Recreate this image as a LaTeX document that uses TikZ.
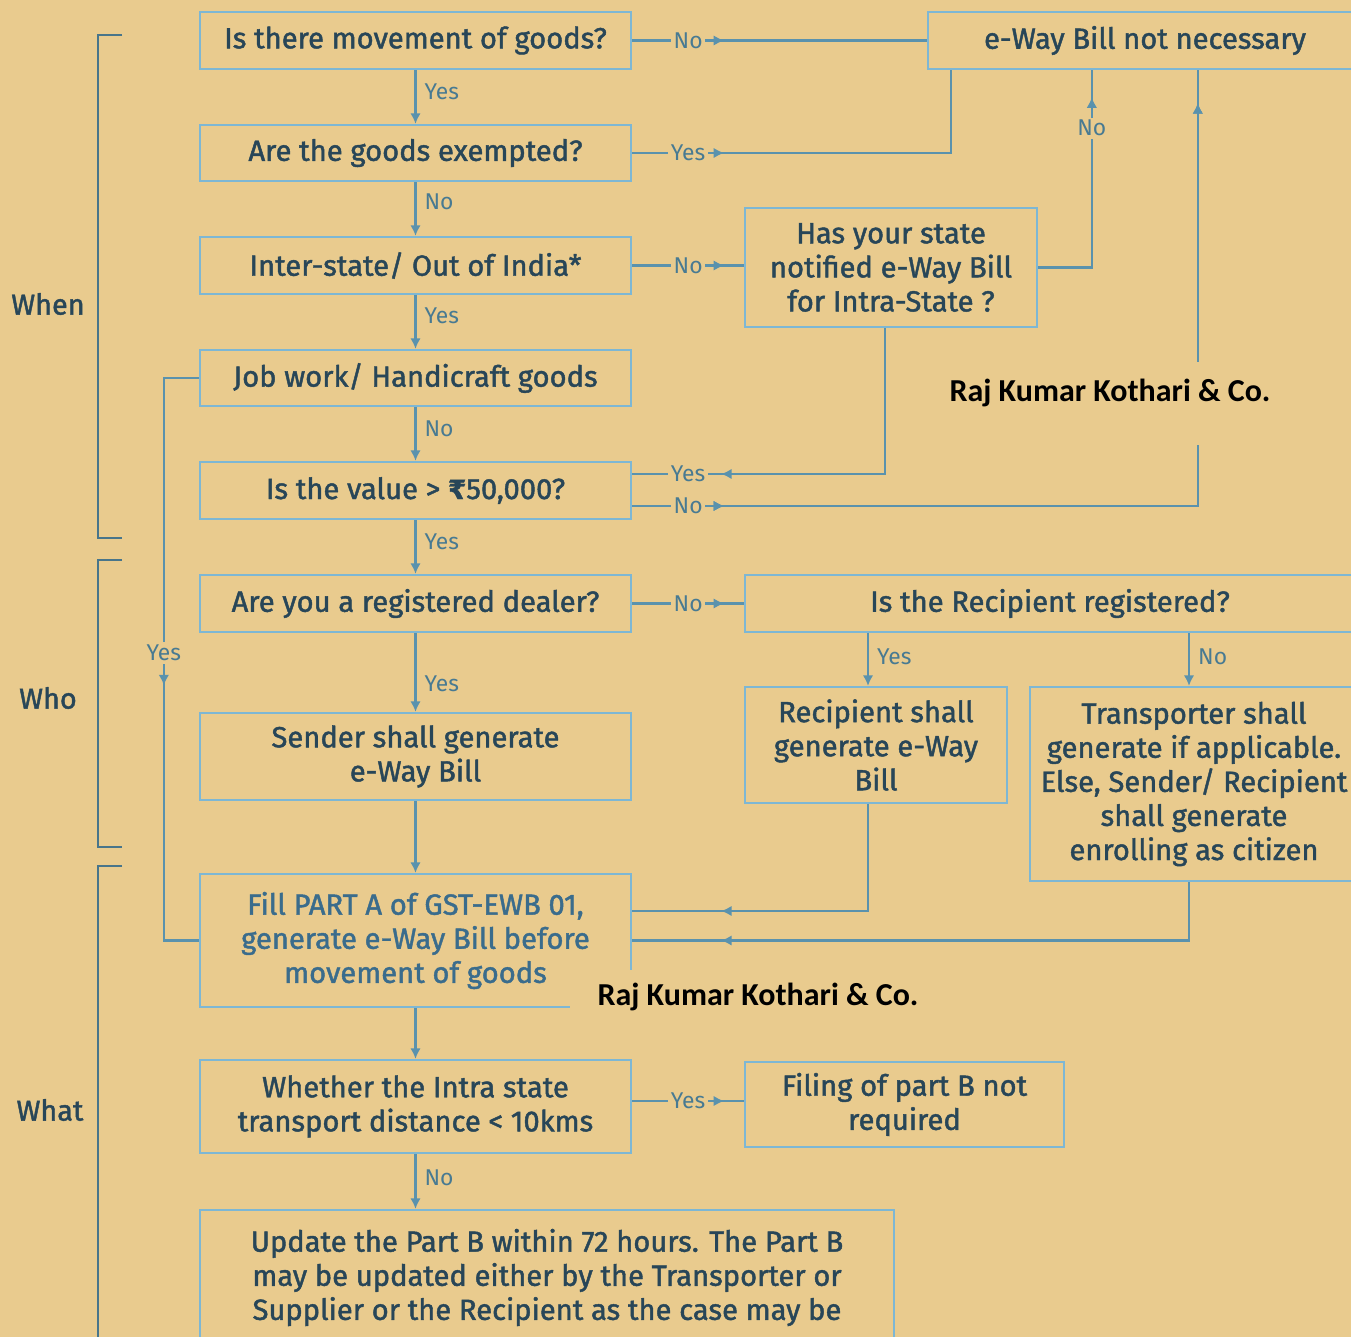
\documentclass[tikz,border=0pt]{standalone}
\usepackage{fontspec}
\setmainfont{Fira Sans}[BoldFont={Fira Sans},BoldFeatures={FakeBold=1.5}]
\newfontfamily\wmfont{Carlito}
\newfontfamily\rupeefont{DejaVu Sans}[FakeBold=1.5]
\usetikzlibrary{arrows.meta,decorations.markings}
\definecolor{paper}{HTML}{E9CB8E}
\definecolor{rimblue}{HTML}{7DB7D4}
\definecolor{wireblue}{HTML}{5A92AD}
\definecolor{inkslate}{HTML}{284658}
\definecolor{fillblue}{HTML}{3A6C8C}
\definecolor{tagblue}{HTML}{487A92}
\newcommand{\FlowTip}{Latex[length=6,width=6]}
\tikzset{box/.style={draw=rimblue,line width=1.3pt,text=inkslate,align=center,inner sep=0,font=\bfseries\fontsize{16.6}{19.4}\selectfont},
sz/.style 2 args={minimum width=#1*0.02cm,minimum height=#2*0.02cm},
tag/.style={text=tagblue,font=\fontsize{13}{15}\selectfont,inner sep=1.5pt},
wire/.style={color=wireblue,line width=1.4pt},
side/.style={text=inkslate,font=\bfseries\fontsize{16.4}{19}\selectfont},
brace/.style={color=wireblue!80!black,line width=1.4pt},
wmark/.style={text=black,font=\wmfont\bfseries\fontsize{18.2}{21}\selectfont},
fwd/.style={decoration={markings,mark=at position 1.12cm with {\node[tag,fill=paper]{#1};},mark=at position 1.84cm with {\arrow{\FlowTip}}},postaction={decorate}},
bwd/.style={decoration={markings,mark=at position -1.12cm with {\node[tag,fill=paper]{#1};},mark=at position -1.78cm with {\arrow{\FlowTip}}},postaction={decorate}},
midtip/.style={decoration={markings,mark=at position #1 with {\arrow{\FlowTip}}},postaction={decorate}}}
\begin{document}
\begin{tikzpicture}[x=0.02cm,y=-0.02cm]
\useasboundingbox(0,0)rectangle(1351,1337);\clip(0,0)rectangle(1351,1337);\fill[paper](0,0)rectangle(1351,1337);
\node[box,sz={431}{57}](mov)at(415.5,40.5){Is there movement of goods?};
\node[box,sz={431}{56}](exm)at(415.5,153){Are the goods exempted?};
\node[box,sz={431}{57}](ist)at(415.5,265.5){Inter-state/ Out of India*};
\node[box,sz={431}{56}](job)at(415.5,378){Job work/ Handicraft goods};
\node[box,sz={431}{57}](val)at(415.5,490.5){Is the value > {\rupeefont\fontsize{15}{16}\selectfont ₹}50,000?};
\node[box,sz={431}{57}](reg)at(415.5,603.5){Are you a registered dealer?};
\node[box,sz={431}{87}](snd)at(415.5,756.5){Sender shall generate\\e-Way Bill};
\node[box,sz={431}{133},text=fillblue](prta)at(415.5,940.5){Fill PART A of GST-EWB 01,\\generate e-Way Bill before\\movement of goods};
\node[box,sz={431}{93}](dist)at(415.5,1106.5){Whether the Intra state\\transport distance < 10kms};
\node[box,sz={694}{135}](prtb)at(547,1277.5){Update the Part B within 72 hours. The Part B\\may be updated either by the Transporter or\\Supplier or the Recipient as the case may be};
\node[box,sz={434}{57}](none)at(1145,40.5){e-Way Bill not necessary};
\node[box,sz={292}{119}](ntf)at(891,267.5){Has your state\\notified e-Way Bill\\for Intra-State ?};
\node[box,sz={610}{57}](rcp)at(1050,603.5){Is the Recipient registered?};
\node[box,sz={262}{116}](rgen)at(876,745){Recipient shall\\generate e-Way\\Bill};
\node[box,sz={328}{194}](tgen)at(1194,784){Transporter shall\\generate if applicable.\\Else, Sender/ Recipient\\shall generate\\enrolling as citizen};
\node[box,sz={319}{85}](nob)at(904.5,1104.5){Filing of part B not\\required};
\draw[wire,-{\FlowTip}](mov)--(exm)node[tag,right=3pt,pos=.41]{Yes};
\draw[wire,-{\FlowTip}](exm)--(ist)node[tag,right=3pt,pos=.36]{No};
\draw[wire,-{\FlowTip}](ist)--(job)node[tag,right=3pt,pos=.39]{Yes};
\draw[wire,-{\FlowTip}](job)--(val)node[tag,right=3pt,pos=.41]{No};
\draw[wire,-{\FlowTip}](val)--(reg)node[tag,right=3pt,pos=.41]{Yes};
\draw[wire,-{\FlowTip}](reg)--(snd)node[tag,right=3pt,pos=.64]{Yes};
\draw[wire,-{\FlowTip}](snd)--(prta);
\draw[wire,-{\FlowTip}](prta)--(dist);
\draw[wire,-{\FlowTip}](dist.south)--(dist.south|-prtb.north)node[tag,right=3pt,pos=.44]{No};
\draw[wire,fwd=No](mov)--(none);
\draw[wire,fwd=Yes](exm.east)-|([xshift=0.48cm]none.south west);
\draw[wire,fwd=No](ist.east)--(ist.east-|ntf.west);
\draw[wire,decoration={markings,mark=at position 3.86cm with {\node[tag,fill=paper]{No};},mark=at position 4.48cm with {\arrow{\FlowTip}}},postaction={decorate}](ntf.east)-|([xshift=3.3cm]none.south west);
\draw[wire,bwd=Yes]([xshift=-0.12cm]ntf.south)|-([yshift=0.33cm]val.east);
\draw[wire,fwd=No,midtip=-0.66cm]([yshift=-0.31cm]val.east)-|([xshift=5.42cm]none.south west);
\draw[wire,fwd=No](reg)--(rcp);
\draw[wire,-{\FlowTip}]([xshift=-0.16cm]rcp.south-|rgen.north)--([xshift=-0.16cm]rgen.north)node[tag,right=3pt,pos=.45]{Yes};
\draw[wire,-{\FlowTip}]([xshift=-0.1cm]rcp.south-|tgen.north)--([xshift=-0.1cm]tgen.north)node[tag,right=3pt,pos=.44]{No};
\draw[wire,midtip=-1.78cm]([xshift=-0.16cm]rgen.south)|-([yshift=0.59cm]prta.east);
\draw[wire,midtip=-1.78cm]([xshift=-0.1cm]tgen.south)|-(prta.east);
\draw[wire,decoration={markings,mark=at position 6.2cm with {\node[tag,fill=paper]{Yes};},mark=at position 6.85cm with {\arrow{\FlowTip}}},postaction={decorate}](job.west)--++(-35,0)|-(prta.west);
\draw[wire,fwd=Yes]([yshift=0.11cm]dist.east)--([yshift=0.11cm]dist.east-|nob.west);
\draw[brace](122,35)--(98,35)--(98,538)--(122,538);
\draw[brace](122,560)--(98,560)--(98,847)--(122,847);
\draw[brace](122,866)--(98,866)--(98,1345);
\node[side](when)at(48,304){When};\node[side](who)at(48,698){Who};\node[side](what)at(50,1110){What};
\fill[paper](905,362)rectangle(1315,445);\node[wmark](wm1)at(1110,393){Raj Kumar Kothari \& Co.};
\fill[paper](570,970)rectangle(950,1024);\node[wmark](wm2)at(758,997){Raj Kumar Kothari \& Co.};
\end{tikzpicture}
\end{document}
